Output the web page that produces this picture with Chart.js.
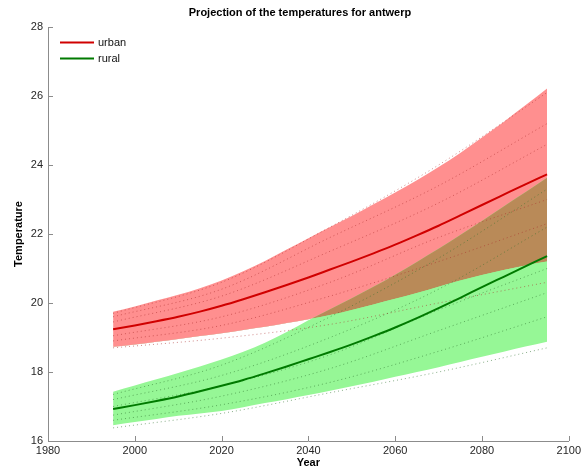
<!DOCTYPE html>
<html>
<head>
<meta charset="utf-8">
<script src="https://cdn.jsdelivr.net/npm/chart.js@4/dist/chart.umd.min.js"></script>
<style>
  html, body { margin: 0; padding: 0; background: #fff; }
  #wrap { width: 584px; height: 469px; position: relative; }
</style>
</head>
<body>
<div id="wrap"><canvas id="c" width="584" height="469"></canvas></div>
<script>
// ---- data ----
const years = [1995,2000,2005,2010,2015,2020,2025,2030,2035,2040,2045,2050,2055,2060,2065,2070,2075,2080,2085,2090,2095];
const urbanMean  = [19.24,19.35,19.47,19.60,19.75,19.92,20.11,20.31,20.52,20.74,20.97,21.20,21.44,21.69,21.96,22.24,22.54,22.84,23.14,23.44,23.73];
const urbanUpper = [19.75,19.90,20.07,20.24,20.43,20.65,20.92,21.22,21.55,21.88,22.20,22.52,22.86,23.20,23.56,23.94,24.35,24.80,25.25,25.73,26.22];
const urbanLower = [18.73,18.80,18.88,18.96,19.04,19.12,19.22,19.31,19.42,19.53,19.65,19.80,19.96,20.12,20.29,20.47,20.65,20.81,20.96,21.09,21.20];
const ruralMean  = [16.93,17.04,17.16,17.29,17.44,17.60,17.77,17.96,18.16,18.37,18.58,18.80,19.04,19.29,19.56,19.85,20.15,20.46,20.76,21.06,21.36];
const ruralUpper = [17.43,17.61,17.79,17.97,18.16,18.36,18.59,18.85,19.16,19.50,19.82,20.14,20.47,20.82,21.19,21.57,21.97,22.38,22.80,23.21,23.63];
const ruralLower = [16.46,16.55,16.64,16.73,16.80,16.87,16.98,17.10,17.21,17.33,17.46,17.59,17.72,17.86,18.00,18.14,18.29,18.44,18.59,18.74,18.88];

const memberYears = [1995,2020,2045,2070,2095];
const urbanMembers = [
  [18.70,18.98,19.38,20.00,20.60],
  [19.60,20.40,21.90,23.40,25.20],
  [19.45,20.20,21.50,22.90,24.60],
  [19.05,19.60,20.60,21.90,23.00],
  [18.90,19.35,20.20,21.20,22.30],
  [19.70,20.60,22.20,24.00,26.10]
];
const ruralMembers = [
  [16.38,16.80,17.40,18.00,18.70],
  [17.35,18.20,19.60,21.30,23.30],
  [17.20,17.90,19.00,20.40,22.20],
  [16.75,17.30,18.10,19.20,20.30],
  [16.60,17.05,17.70,18.60,19.60],
  [17.00,17.60,18.50,19.80,21.00]
];

const xTicks = [1980,2000,2020,2040,2060,2080,2100];
const yTicks = [16,18,20,22,24,26,28];
const titleText = 'Projection of the temperatures for antwerp';
const xTitle = 'Year';
const yTitle = 'Temperature';
const legendLabels = ['urban','rural'];

// ---- styles ----
const RED = '#d00000', GREEN = '#007a00';
const PINK = '#ff8f8f', LIGHTGREEN = '#96f796', BROWN = '#b98a58';

const pts = (xs, ys) => xs.map((x,i) => ({x, y: ys[i]}));
const lineBase = { pointRadius: 0, fill: false, cubicInterpolationMode: 'monotone' };

const datasets = [];
datasets.push({ ...lineBase, label: legendLabels[0], data: pts(years, urbanMean), borderColor: RED, borderWidth: 2 });
datasets.push({ ...lineBase, label: legendLabels[1], data: pts(years, ruralMean), borderColor: GREEN, borderWidth: 2 });
urbanMembers.forEach(m => datasets.push({ ...lineBase, data: pts(memberYears, m), borderColor: 'rgba(170,40,40,0.55)', borderWidth: 1, borderDash: [1,3] }));
ruralMembers.forEach(m => datasets.push({ ...lineBase, data: pts(memberYears, m), borderColor: 'rgba(40,110,40,0.55)', borderWidth: 1, borderDash: [1,3] }));
const base = datasets.length;
// overlap (rural upper above urban lower)
datasets.push({ ...lineBase, data: pts(years, ruralUpper), borderWidth: 0, borderColor: 'transparent',
  fill: { target: base + 4, above: BROWN, below: 'rgba(0,0,0,0)' } });
// rural band
datasets.push({ ...lineBase, data: pts(years, ruralUpper), borderWidth: 0, borderColor: 'transparent',
  fill: { target: base + 2 }, backgroundColor: LIGHTGREEN });
datasets.push({ ...lineBase, data: pts(years, ruralLower), borderWidth: 0, borderColor: 'transparent' });
// urban band
datasets.push({ ...lineBase, data: pts(years, urbanUpper), borderWidth: 0, borderColor: 'transparent',
  fill: { target: base + 4 }, backgroundColor: PINK });
datasets.push({ ...lineBase, data: pts(years, urbanLower), borderWidth: 0, borderColor: 'transparent' });

const decor = {
  id: 'decor',
  afterDraw(chart) {
    const ctx = chart.ctx, a = chart.chartArea;
    const xs = chart.scales.x, ys = chart.scales.y;
    ctx.save();
    // inward ticks
    ctx.strokeStyle = '#8c8c8c'; ctx.lineWidth = 1;
    ctx.beginPath();
    xTicks.forEach(v => { const px = Math.round(xs.getPixelForValue(v)) + 0.5; ctx.moveTo(px, a.bottom); ctx.lineTo(px, a.bottom - 5); });
    yTicks.forEach(v => { const py = Math.round(ys.getPixelForValue(v)) + 0.5; ctx.moveTo(a.left, py); ctx.lineTo(a.left + 5, py); });
    ctx.stroke();
    // titles
    ctx.fillStyle = '#000';
    ctx.font = 'bold 11px "Liberation Sans", Arial, sans-serif';
    ctx.textAlign = 'center'; ctx.textBaseline = 'middle';
    ctx.fillText(titleText, 300, 13);
    ctx.fillText(xTitle, (a.left + a.right) / 2, 463);
    ctx.save();
    ctx.translate(19, (a.top + a.bottom) / 2);
    ctx.rotate(-Math.PI / 2);
    ctx.fillText(yTitle, 0, 0);
    ctx.restore();
    // legend
    ctx.lineWidth = 2;
    [[RED, 42.5], [GREEN, 58.5]].forEach(([c, y], i) => {
      ctx.strokeStyle = c;
      ctx.beginPath(); ctx.moveTo(60, y); ctx.lineTo(94, y); ctx.stroke();
      ctx.fillStyle = '#111';
      ctx.font = '11px "Liberation Sans", Arial, sans-serif';
      ctx.textAlign = 'left';
      ctx.fillText(legendLabels[i], 98, y);
    });
    ctx.restore();
  }
};

new Chart(document.getElementById('c'), {
  type: 'line',
  data: { datasets },
  options: {
    responsive: false,
    animation: false,
    events: [],
    layout: { padding: { top: 27, right: 14, left: 0, bottom: 0 } },
    plugins: { legend: { display: false }, title: { display: false }, tooltip: { enabled: false } },
    scales: {
      x: {
        type: 'linear', min: 1980, max: 2100,
        afterFit: s => { s.height = 28; },
        afterBuildTicks: s => { s.ticks = xTicks.map(v => ({ value: v })); },
        ticks: { callback: v => String(v), color: '#262626', font: { size: 11, family: '"Liberation Sans", Arial, sans-serif' }, padding: 3, maxRotation: 0, autoSkip: false },
        grid: { display: false, drawTicks: false },
        border: { display: true, color: '#8c8c8c', width: 1 }
      },
      y: {
        type: 'linear', min: 16, max: 28,
        afterFit: s => { s.width = 48; },
        afterBuildTicks: s => { s.ticks = yTicks.map(v => ({ value: v })); },
        ticks: { callback: v => String(v), color: '#262626', font: { size: 11, family: '"Liberation Sans", Arial, sans-serif' }, padding: 5 },
        grid: { display: false, drawTicks: false },
        border: { display: true, color: '#8c8c8c', width: 1 }
      }
    }
  },
  plugins: [decor]
});
</script>
</body>
</html>
